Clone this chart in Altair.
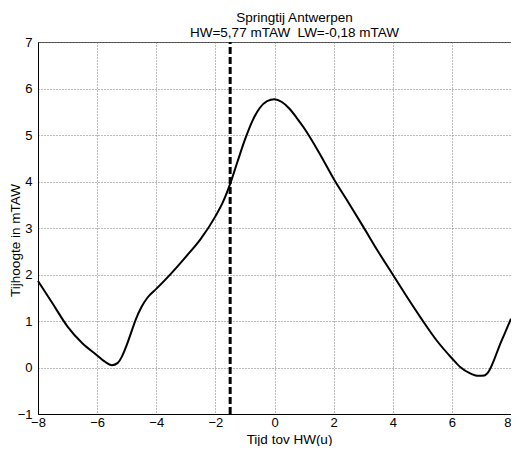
import altair as alt
import pandas as pd

# Tide curve (hours relative to HW, water level in mTAW)
hours = [-8.0, -7.5, -7.0, -6.5, -6.0, -5.75, -5.5, -5.3, -5.15, -5.0, -4.85, -4.7,
         -4.5, -4.3, -4.0, -3.5, -3.0, -2.5, -2.0, -1.75, -1.5, -1.25, -1.0, -0.75,
         -0.5, -0.25, 0.0, 0.25, 0.5, 0.75, 1.0, 1.5, 2.0, 2.5, 3.0, 3.5, 4.0, 4.5,
         5.0, 5.5, 6.0, 6.3, 6.6, 6.9, 7.1, 7.25, 7.4, 7.6, 7.8, 8.0]
level = [1.86, 1.37, 0.88, 0.52, 0.26, 0.13, 0.05, 0.10, 0.25, 0.48, 0.75, 1.02,
         1.30, 1.50, 1.69, 2.02, 2.38, 2.76, 3.25, 3.55, 3.95, 4.43, 4.90, 5.30,
         5.58, 5.73, 5.77, 5.71, 5.57, 5.37, 5.15, 4.63, 4.06, 3.55, 3.03, 2.50,
         2.00, 1.50, 1.02, 0.57, 0.20, 0.00, -0.12, -0.18, -0.17, -0.08, 0.12,
         0.45, 0.75, 1.05]

marker_hour = [-1.5]
y_min, y_max = -1, 7
x_ticks = [-8, -6, -4, -2, 0, 2, 4, 6, 8]
y_ticks = [-1, 0, 1, 2, 3, 4, 5, 6, 7]

# second line keeps its double space (non-breaking so it is not collapsed)
title_lines = ["Springtij Antwerpen", "HW=5,77 mTAW\u00a0 LW=-0,18 mTAW"]
x_title = "Tijd tov HW(u)"
y_title = "Tijhoogte in mTAW"

FONT = "Liberation Sans"
W, H = 473, 372

curve = pd.DataFrame({"t": hours, "h": level})
marker = pd.DataFrame({"t": marker_hour, "y1": [y_min], "y2": [y_max]})

xscale = alt.Scale(domain=[-8, 8], nice=False, zero=False)
yscale = alt.Scale(domain=[y_min, y_max], nice=False, zero=False)

line = alt.Chart(curve).mark_line(
    color="black", strokeWidth=2, interpolate="monotone"
).encode(
    x=alt.X("t:Q", scale=xscale, title=x_title,
            axis=alt.Axis(values=x_ticks, format="d", labelPadding=2,
                          labelFlush=False,
                          labelAlign={"expr": "datum.value == 8 ? 'right' : 'center'"},
                          titleX=251, titleY=29, titleBaseline="alphabetic",
                          titleAlign="center")),
    y=alt.Y("h:Q", scale=yscale, title=y_title,
            axis=alt.Axis(values=y_ticks, format="d", labelPadding=6,
                          labelFlush=False,
                          titleX=-19, titleY=198, titleBaseline="alphabetic",
                          titleAlign="center", titleAngle=-90)),
)

rule = alt.Chart(marker).mark_rule(
    color="black", strokeWidth=3, strokeDash=[7, 3]
).encode(
    x=alt.X("t:Q", scale=xscale),
    y=alt.Y("y1:Q", scale=yscale),
    y2="y2:Q",
)

chart = alt.layer(rule, line).properties(
    width=W,
    height=H,
    autosize=alt.AutoSizeParams(type="none"),
    padding={"left": 30, "top": 34, "right": 0, "bottom": 32},
    title=alt.TitleParams(
        text=title_lines, font=FONT, fontSize=13.5, fontWeight="normal",
        color="black", lineHeight=15, offset=7, dx=20, dy=24.5, anchor="middle",
        baseline="bottom",
    ),
).configure_view(
    stroke="#444", strokeWidth=1
).configure_axis(
    domainColor="black", domainWidth=1, ticks=False,
    labelFont=FONT, labelFontSize=13, labelColor="black",
    titleFont=FONT, titleFontSize=13.5, titleFontWeight="normal", titleColor="black",
    grid=True, gridColor="#777", gridDash=[1, 2], gridOpacity=1, gridWidth=1,
)

chart.save("out.html", embed_options={"renderer": "svg", "actions": False})
